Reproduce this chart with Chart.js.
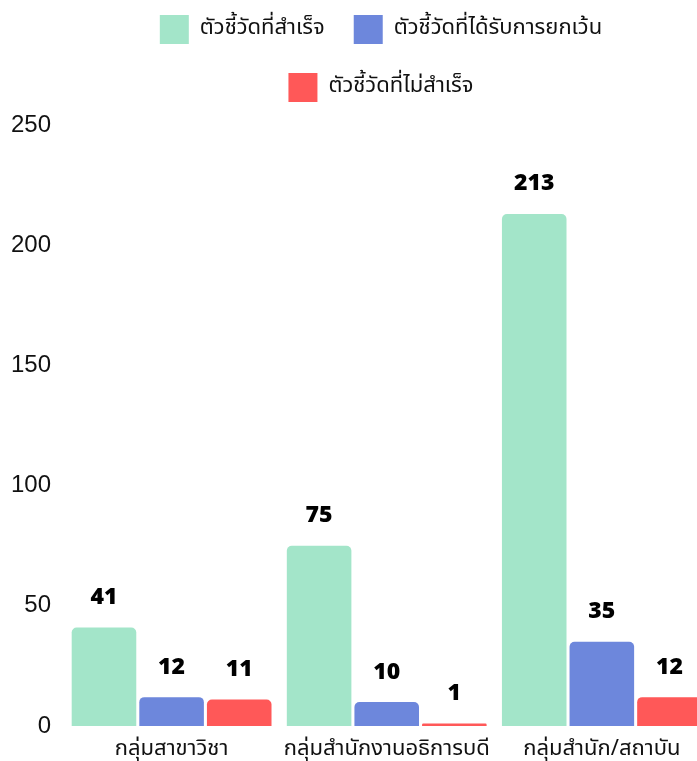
<!DOCTYPE html>
<html>
<head>
<meta charset="utf-8">
<script src="https://cdn.jsdelivr.net/npm/chart.js@4.4.1/dist/chart.umd.min.js"></script>
<style>
    html, body { margin: 0; padding: 0; background: #fff; overflow: hidden; }
    #wrap { width: 764px; height: 761px; }
</style>
</head>
<body>
<div id="wrap"><canvas id="chart"></canvas></div>
<script>
const categories = ['กลุ่มสาขาวิชา', 'กลุ่มสำนักงานอธิการบดี', 'กลุ่มสำนัก/สถาบัน'];
const seriesNames = ['ตัวชี้วัดที่สำเร็จ', 'ตัวชี้วัดที่ได้รับการยกเว้น', 'ตัวชี้วัดที่ไม่สำเร็จ'];
const doneValues = [41, 75, 213];
const exemptValues = [12, 10, 35];
const failedValues = [11, 1, 12];
const yTicks = [0, 50, 100, 150, 200, 250];

const thaiFont = "'Noto Sans Thai', 'Noto Sans', sans-serif";

// ตัวเลขบนแท่ง
const barValueLabels = {
    id: 'barValueLabels',
    afterDatasetsDraw(chart) {
        const { ctx } = chart;
        ctx.save();
        ctx.font = "900 23px 'Noto Sans', sans-serif";
        ctx.fillStyle = '#000';
        ctx.textAlign = 'center';
        ctx.textBaseline = 'middle';
        chart.data.datasets.forEach((ds, i) => {
            chart.getDatasetMeta(i).data.forEach((bar, j) => {
                ctx.fillText(String(ds.data[j]), bar.x, bar.y - 30);
            });
        });
        ctx.restore();
    },
};

// legend สองแถว + เว้นที่ใต้ legend
const legendSpacing = {
    id: 'legendSpacing',
    beforeInit(chart) {
        const fit = chart.legend.fit;
        chart.legend.fit = function () {
            const mw = this.maxWidth;
            this.maxWidth = 680;
            fit.bind(chart.legend)();
            this.maxWidth = mw;
            this.width = mw;
            this.height += 13;
        };
    },
};

const barStyle = {
    borderWidth: 0,
    borderRadius: 5,
    borderSkipped: 'start',
    categoryPercentage: 0.943,
    barPercentage: 0.955,
};

new Chart(document.getElementById('chart'), {
    type: 'bar',
    data: {
        labels: categories,
        datasets: [
            { label: seriesNames[0], data: doneValues, backgroundColor: '#a3e5c9', ...barStyle },
            { label: seriesNames[1], data: exemptValues, backgroundColor: '#6d87dc', ...barStyle },
            { label: seriesNames[2], data: failedValues, backgroundColor: '#ff5858', ...barStyle },
        ],
    },
    options: {
        responsive: true,
        maintainAspectRatio: false,
        animation: false,
        layout: { padding: { top: -14, left: -2, right: 0, bottom: -13.4 } },
        plugins: {
            legend: {
                position: 'top',
                labels: {
                    boxWidth: 29,
                    boxHeight: 29,
                    padding: 29,
                    color: '#111',
                    font: { size: 22, family: thaiFont },
                },
            },
            tooltip: { enabled: false },
        },
        scales: {
            x: {
                grid: { display: false, drawTicks: false },
                border: { display: false },
                ticks: {
                    color: '#111',
                    font: { size: 22, family: thaiFont },
                    padding: 11,
                    maxRotation: 0,
                    minRotation: 0,
                    autoSkip: false,
                },
            },
            y: {
                min: 0,
                max: 250,
                afterBuildTicks: axis => { axis.ticks = yTicks.map(v => ({ value: v })); },
                grid: { display: false, drawTicks: false },
                border: { display: false },
                ticks: { color: '#111', font: { size: 24 }, padding: 13 },
            },
            yRight: {
                type: 'linear',
                position: 'right',
                grid: { display: false, drawTicks: false },
                border: { display: false },
                ticks: { display: false },
                afterFit: axis => { axis.width = 54.6; },
            },
        },
    },
    plugins: [barValueLabels, legendSpacing],
});
</script>
</body>
</html>
